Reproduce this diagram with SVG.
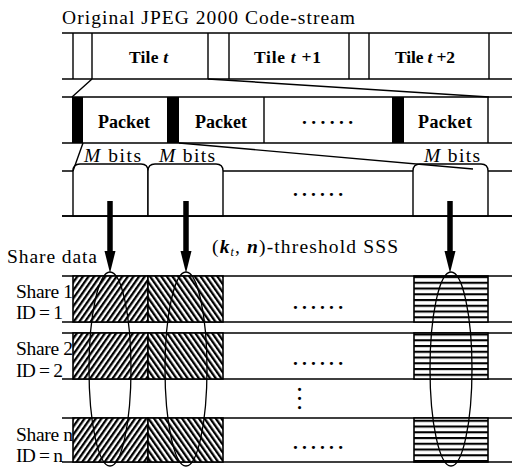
<svg xmlns="http://www.w3.org/2000/svg" width="512" height="467" viewBox="0 0 512 467">
<style>
text{font-family:"Liberation Serif","Times New Roman",serif;font-size:19.5px;fill:#000}
.b{font-weight:bold}
.i{font-style:italic}
.t{font-size:17.5px;font-weight:bold}
.p{font-size:18px;font-weight:bold}
.ln{stroke:#000;stroke-width:1.4;fill:none}
.blk{fill:#000}
.cell{fill:#fff;stroke:#000;stroke-width:1.4}
.hr{fill:url(#hatchR);stroke:#000;stroke-width:1.6}
.hl{fill:url(#hatchL);stroke:#000;stroke-width:1.6}
.hh{fill:url(#hatchH);stroke:#000;stroke-width:1.6}
.arr{stroke:#000;stroke-width:5.5;fill:none;marker-end:url(#ah)}
.ell{fill:none;stroke:#000;stroke-width:1.3}
</style>
<defs>
<pattern id="hatchR" patternUnits="userSpaceOnUse" width="4.6" height="10" patternTransform="rotate(35)"><rect x="0" y="0" width="4.6" height="10" fill="#fff"/><rect x="0" y="0" width="2.3" height="10" fill="#000"/></pattern>
<pattern id="hatchL" patternUnits="userSpaceOnUse" width="4.6" height="10" patternTransform="rotate(-35)"><rect x="0" y="0" width="4.6" height="10" fill="#fff"/><rect x="0" y="0" width="2.3" height="10" fill="#000"/></pattern>
<pattern id="hatchH" patternUnits="userSpaceOnUse" x="0" y="276" width="10" height="5.75"><rect x="0" y="0" width="10" height="5.75" fill="#fff"/><rect x="0" y="0" width="10" height="2.1" fill="#000"/></pattern>
<marker id="ah" markerUnits="userSpaceOnUse" viewBox="0 -6 22 12" markerWidth="22" markerHeight="12" refX="0" refY="0" orient="auto"><path d="M0,-5.5 L22,0 L0,5.5 Z" fill="#000"/></marker>
</defs>
<rect x="0" y="0" width="512" height="467" fill="#fff"/>

<text id="title" x="62" y="24" font-size="20" textLength="293" lengthAdjust="spacing">Original JPEG 2000 Code-stream</text>

<g id="tiles">
<path class="ln" d="M62,33H512M62,79H512M73,33V79M92,33V79M208,33V79M229,33V79M349,33V79M369,33V79M489,33V79"/>
<text class="t" x="129" y="63" textLength="39" lengthAdjust="spacing">Tile <tspan class="i">t</tspan></text>
<text class="t" x="254" y="63" textLength="67" lengthAdjust="spacing">Tile <tspan class="i">t</tspan> +1</text>
<text class="t" x="395" y="63" textLength="60" lengthAdjust="spacing">Tile <tspan class="i">t</tspan> +2</text>
</g>

<g id="packets">
<path class="ln" d="M62,97H512M62,143H512M264,97V143M488,97V143"/>
<rect class="blk" x="72" y="97" width="11" height="46"/>
<rect class="blk" x="167" y="97" width="12" height="46"/>
<rect class="blk" x="392" y="97" width="12" height="46"/>
<text class="p" x="98" y="128" textLength="52" lengthAdjust="spacing">Packet</text>
<text class="p" x="195" y="128" textLength="52" lengthAdjust="spacing">Packet</text>
<text class="b" x="302" y="124" textLength="51" lengthAdjust="spacing">......</text>
<text class="p" x="418" y="128" textLength="54" lengthAdjust="spacing">Packet</text>
</g>

<g id="mbits">
<path class="ln" d="M62,171H512M62,216H512"/>
<path class="cell" d="M73,216V171Q73,164 80,164H141Q148,164 148,171V216Z"/>
<path class="cell" d="M148,216V171Q148,164 155,164H216Q223,164 223,171V216Z"/>
<path class="cell" d="M413,216V171Q413,164 420,164H481Q488,164 488,171V216Z"/>
<path class="ln" d="M62,216H512"/>
<text x="84" y="162" textLength="57" lengthAdjust="spacing"><tspan class="i">M</tspan> bits</text>
<text x="159" y="162" textLength="56" lengthAdjust="spacing"><tspan class="i">M</tspan> bits</text>
<text x="424" y="162" textLength="56" lengthAdjust="spacing"><tspan class="i">M</tspan> bits</text>
<text class="b" x="293" y="196" textLength="50" lengthAdjust="spacing">......</text>
</g>

<text id="sss" x="212" y="253" textLength="186" lengthAdjust="spacing">(<tspan class="b i">k</tspan><tspan class="i" font-size="12" dy="3">t</tspan><tspan dy="-3">, </tspan><tspan class="b i">n</tspan>)-threshold SSS</text>
<text id="sharedata" x="7" y="263" textLength="90" lengthAdjust="spacing">Share data</text>

<g id="share1">
<path class="ln" d="M62,276H512M62,322H512"/>
<rect class="hr" x="73" y="276" width="75" height="46"/>
<rect class="hl" x="148" y="276" width="75" height="46"/>
<rect class="hh" x="414" y="276" width="74" height="46"/>
<text class="b" x="293" y="309" textLength="50" lengthAdjust="spacing">......</text>
<text x="16" y="298" textLength="57" lengthAdjust="spacing">Share 1</text>
<text x="16" y="319" textLength="47" lengthAdjust="spacing">ID = 1</text>
</g>

<g id="share2">
<path class="ln" d="M62,333H512M62,379H512"/>
<rect class="hr" x="73" y="333" width="75" height="46"/>
<rect class="hl" x="148" y="333" width="75" height="46"/>
<rect class="hh" x="414" y="333" width="74" height="46"/>
<text class="b" x="293" y="365" textLength="50" lengthAdjust="spacing">......</text>
<text x="16" y="355" textLength="57" lengthAdjust="spacing">Share 2</text>
<text x="16" y="377" textLength="47" lengthAdjust="spacing">ID = 2</text>
</g>

<text id="vdots" class="b" transform="translate(298,387) rotate(90)" x="0" y="0" textLength="23" lengthAdjust="spacing">...</text>

<g id="sharen">
<path class="ln" d="M62,418H512M62,462H512"/>
<rect class="hr" x="73" y="418" width="75" height="44"/>
<rect class="hl" x="148" y="418" width="75" height="44"/>
<rect class="hh" x="414" y="418" width="74" height="44"/>
<text class="b" x="293" y="449" textLength="50" lengthAdjust="spacing">......</text>
<text x="16" y="441" textLength="57" lengthAdjust="spacing">Share n</text>
<text x="16" y="462" textLength="47" lengthAdjust="spacing">ID = n</text>
</g>

<g id="connectors">
<path class="ln" d="M92,79L72,97M208,79L489,97M83,143L73,171M179,143L473,169"/>
<path class="arr" d="M110,201V251"/>
<path class="arr" d="M186,201V251"/>
<path class="arr" d="M450,201V251"/>
<ellipse class="ell" cx="110" cy="369" rx="21" ry="97"/>
<ellipse class="ell" cx="186" cy="369" rx="21" ry="97"/>
<ellipse class="ell" cx="451" cy="369" rx="21" ry="97"/>
</g>
</svg>
